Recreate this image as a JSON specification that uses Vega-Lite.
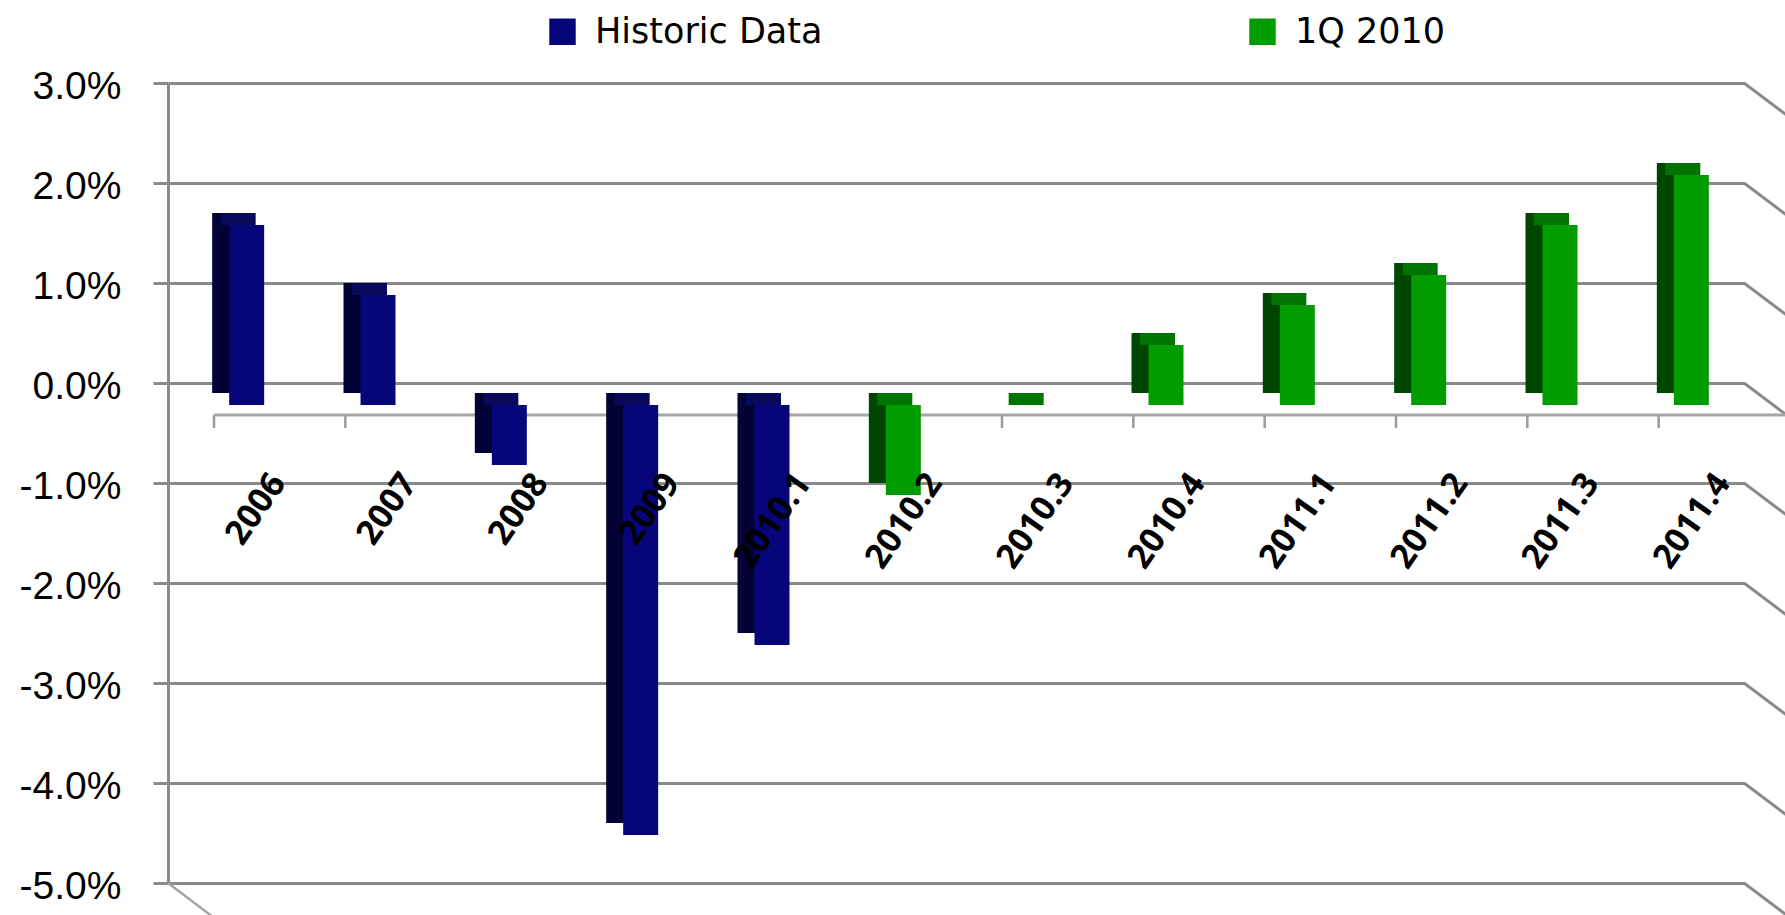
{
  "$schema": "https://vega.github.io/schema/vega-lite/v6.json",
  "width": 1576,
  "height": 800,
  "autosize": {"type": "none"},
  "padding": {"left": 168, "top": 83, "right": 41, "bottom": 32},
  "background": "white",
  "config": {"view": {"stroke": null}, "font": "DejaVu Sans"},
  "datasets": {
    "growth": [
      {"period": "2006", "series": "Historic Data", "g": 0.018},
      {"period": "2007", "series": "Historic Data", "g": 0.011},
      {"period": "2008", "series": "Historic Data", "g": -0.006},
      {"period": "2009", "series": "Historic Data", "g": -0.043},
      {"period": "2010.1", "series": "Historic Data", "g": -0.024},
      {"period": "2010.2", "series": "1Q 2010", "g": -0.009},
      {"period": "2010.3", "series": "1Q 2010", "g": 0.0},
      {"period": "2010.4", "series": "1Q 2010", "g": 0.006},
      {"period": "2011.1", "series": "1Q 2010", "g": 0.010},
      {"period": "2011.2", "series": "1Q 2010", "g": 0.013},
      {"period": "2011.3", "series": "1Q 2010", "g": 0.018},
      {"period": "2011.4", "series": "1Q 2010", "g": 0.023}
    ],
    "grid": [
      {"v": -0.05}, {"v": -0.04}, {"v": -0.03}, {"v": -0.02}, {"v": -0.01},
      {"v": 0.0}, {"v": 0.01}, {"v": 0.02}, {"v": 0.03}
    ]
  },
  "data": {"name": "growth"},
  "layer": [
    {
      "data": {"name": "grid"},
      "mark": {"type": "rule", "color": "#8a8a8a", "strokeWidth": 3, "x2Offset": 45, "y2Offset": 34},
      "encoding": {
        "x": {
          "datum": "2011.4", "type": "nominal", "bandPosition": 1, "title": null,
          "scale": {"domain": ["2006", "2007", "2008", "2009", "2010.1", "2010.2", "2010.3", "2010.4", "2011.1", "2011.2", "2011.3", "2011.4"], "paddingInner": 0, "paddingOuter": 0},
          "axis": {
            "title": null, "orient": "bottom", "offset": -406,
            "domain": false, "ticks": false, "tickSize": 0, "grid": false,
            "labelAngle": -55, "labelAlign": "right", "labelBaseline": "middle",
            "labelFont": "Open Sans", "labelFontWeight": "bold", "labelFontSize": 34,
            "labelColor": "#000000", "labelOffset": 45, "labelPadding": 0,
            "labelOverlap": false, "labelLimit": 300, "zindex": 1
          }
        },
        "x2": {"datum": "2011.4", "bandPosition": 1},
        "y": {
          "field": "v", "type": "quantitative", "title": null,
          "scale": {"domain": [-0.05, 0.03], "nice": false, "zero": false},
          "axis": {
            "values": [-0.05, -0.04, -0.03, -0.02, -0.01, 0, 0.01, 0.02, 0.03],
            "title": null,
            "grid": true, "gridColor": "#8a8a8a", "gridWidth": 3,
            "domainColor": "#8a8a8a", "domainWidth": 3,
            "tickColor": "#8a8a8a", "tickWidth": 3, "tickSize": 15,
            "labelFont": "Liberation Sans", "labelFontSize": 39, "labelColor": "#000000",
            "labelPadding": 32, "labelOffset": 3, "labelFlush": false, "labelOverlap": false,
            "labelExpr": "replace(format(datum.value, '.1%'), '\u2212', '-')",
            "zindex": 0
          }
        },
        "y2": {"field": "v"}
      }
    },
    {
      "data": {"name": "grid"},
      "transform": [{"filter": "datum.v === -0.05"}],
      "mark": {"type": "rule", "color": "#a6a6a6", "strokeWidth": 2.5, "x2Offset": 45, "y2Offset": 34},
      "encoding": {
        "x": {"datum": "2006", "type": "nominal", "bandPosition": 0, "title": null},
        "x2": {"datum": "2006", "bandPosition": 0},
        "y": {"field": "v", "type": "quantitative", "title": null, "scale": {"domain": [-0.05, 0.03], "nice": false, "zero": false}},
        "y2": {"field": "v"}
      }
    },
    {
      "data": {"name": "grid"},
      "transform": [{"filter": "datum.v === 0"}],
      "mark": {"type": "rule", "color": "#a6a6a6", "strokeWidth": 3, "xOffset": 46, "x2Offset": 46, "yOffset": 32},
      "encoding": {
        "x": {"datum": "2006", "type": "nominal", "bandPosition": 0, "title": null},
        "x2": {"datum": "2011.4", "bandPosition": 1},
        "y": {"field": "v", "type": "quantitative", "title": null, "scale": {"domain": [-0.05, 0.03], "nice": false, "zero": false}}
      }
    },
    {
      "mark": {"type": "rule", "color": "#9a9a9a", "strokeWidth": 2.5, "xOffset": 46, "yOffset": 32, "y2Offset": 45},
      "encoding": {
        "x": {"field": "period", "type": "nominal", "sort": null, "bandPosition": 0, "title": null},
        "y": {"datum": 0, "type": "quantitative", "title": null, "scale": {"domain": [-0.05, 0.03], "nice": false, "zero": false}},
        "y2": {"datum": 0}
      }
    },
    {
      "mark": {"type": "bar", "width": 35, "xOffset": -4, "yOffset": 10},
      "encoding": {
        "x": {"field": "period", "type": "nominal", "sort": null, "title": null},
        "y": {"field": "g", "type": "quantitative", "title": null, "scale": {"domain": [-0.05, 0.03], "nice": false, "zero": false}},
        "color": {"condition": {"test": "datum.series === 'Historic Data'", "value": "#020236"}, "value": "#004600"}
      }
    },
    {
      "transform": [{"filter": "datum.g >= 0"}],
      "mark": {"type": "tick", "thickness": 12, "size": 35, "xOffset": 4.5, "yOffset": 16, "opacity": 1},
      "encoding": {
        "x": {"field": "period", "type": "nominal", "sort": null, "title": null},
        "y": {"field": "g", "type": "quantitative", "title": null, "scale": {"domain": [-0.05, 0.03], "nice": false, "zero": false}},
        "color": {"condition": {"test": "datum.series === 'Historic Data'", "value": "#0a0a5c"}, "value": "#007400"}
      }
    },
    {
      "transform": [{"filter": "datum.g < 0"}],
      "mark": {"type": "tick", "thickness": 12, "size": 35, "xOffset": 4.5, "yOffset": 16, "opacity": 1},
      "encoding": {
        "x": {"field": "period", "type": "nominal", "sort": null, "title": null},
        "y": {"datum": 0, "type": "quantitative", "title": null, "scale": {"domain": [-0.05, 0.03], "nice": false, "zero": false}},
        "color": {"condition": {"test": "datum.series === 'Historic Data'", "value": "#0a0a5c"}, "value": "#007400"}
      }
    },
    {
      "mark": {"type": "bar", "width": 35, "xOffset": 13, "yOffset": 22},
      "encoding": {
        "x": {"field": "period", "type": "nominal", "sort": null, "title": null},
        "y": {"field": "g", "type": "quantitative", "title": null, "scale": {"domain": [-0.05, 0.03], "nice": false, "zero": false}},
        "color": {
          "field": "series", "type": "nominal",
          "scale": {"domain": ["Historic Data", "1Q 2010"], "range": ["#06067a", "#009c00"]},
          "legend": {
            "title": null, "orient": "none", "legendX": 377, "legendY": -69,
            "direction": "horizontal", "columnPadding": 422,
            "symbolType": "square", "symbolSize": 700, "symbolStrokeWidth": 0,
            "labelFont": "DejaVu Sans", "labelFontSize": 35, "labelColor": "#000000",
            "labelOffset": 15, "labelLimit": 500
          }
        }
      }
    }
  ]
}
